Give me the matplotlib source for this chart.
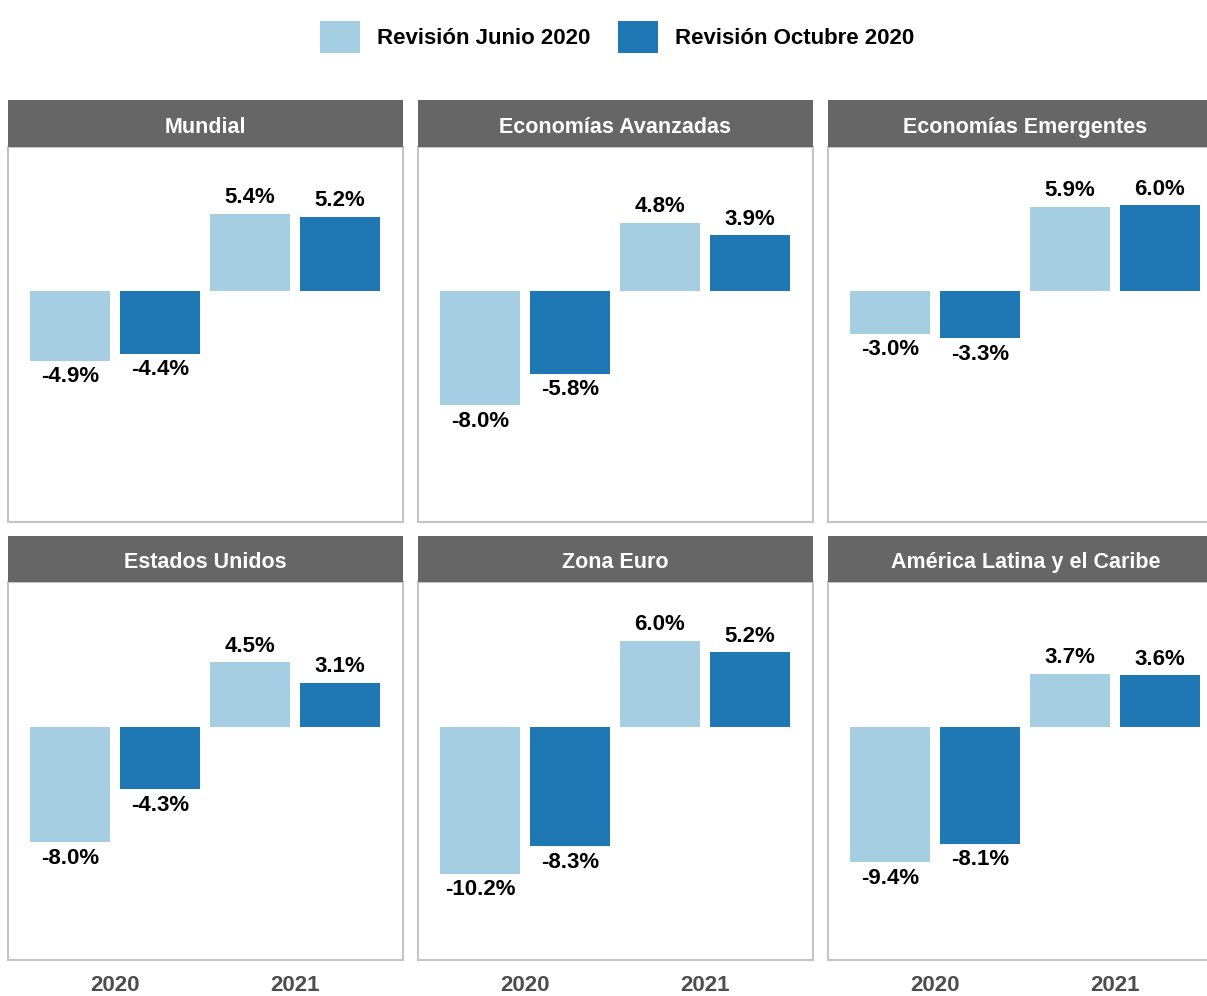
"""
Revisiones de crecimiento (Junio vs Octubre 2020), 2x3 paneles por región.
Writes out.png (1207x996).
"""

import numpy as np
import matplotlib
matplotlib.use("Agg")
import matplotlib.pyplot as plt

plt.rcParams["font.family"] = ["Liberation Sans", "DejaVu Sans"]

# --- data -------------------------------------------------------------------
regions = ["Mundial", "Economías Avanzadas", "Economías Emergentes",
           "Estados Unidos", "Zona Euro", "América Latina y el Caribe"]
years = ["2020", "2021"]
series = ["Revisión Junio 2020", "Revisión Octubre 2020"]

# values per region: [2020, 2021]
junio = [[-4.9, 5.4], [-8.0, 4.8], [-3.0, 5.9],
         [-8.0, 4.5], [-10.2, 6.0], [-9.4, 3.7]]
octubre = [[-4.4, 5.2], [-5.8, 3.9], [-3.3, 6.0],
           [-4.3, 3.1], [-8.3, 5.2], [-8.1, 3.6]]

colors = ["#a6cee3", "#1f78b4"]

# --- layout (pixel coords) ---------------------------------------------------
W, H = 1207, 996
fig = plt.figure(figsize=(W / 100, H / 100), dpi=100)

col_x = [8, 418, 828]
panel_w = 395
rows = [(100, 147, 522), (536, 582, 960)]  # strip top, panel top, panel bottom


def px_axes(x0, y0, x1, y1):
    return fig.add_axes([x0 / W, 1 - y1 / H, (x1 - x0) / W, (y1 - y0) / H])


x = np.arange(len(years))
handles = None
for i, region in enumerate(regions):
    r, c = divmod(i, 3)
    strip_top, top, bottom = rows[r]
    x0 = col_x[c]

    ax = px_axes(x0, top, x0 + panel_w, bottom)
    bars = []
    for k, vals in enumerate([junio[i], octubre[i]]):
        b = ax.bar(x + (k - 0.5) * 0.5, vals, width=0.445, color=colors[k],
                   label=series[k])
        bars.append(b)
        for xi, v in zip(x + (k - 0.5) * 0.5, vals):
            ax.annotate(f"{v:.1f}%", (xi, v),
                        xytext=(0, 4 if v > 0 else -4), textcoords="offset points",
                        ha="center", va="bottom" if v > 0 else "top",
                        fontsize=16, fontweight="bold", color="black")
    handles = bars
    ax.set_xlim(-0.594, 1.6)
    ax.set_ylim(-16.2, 10.1)
    ax.set_yticks([])
    ax.set_xticks(x)
    if r == 1:
        ax.set_xticklabels(years, fontsize=16, fontweight="bold", color="#4d4d4d")
    else:
        ax.set_xticklabels([])
    ax.tick_params(axis="x", length=0, pad=11)
    for s in ax.spines.values():
        s.set_color("#c4c4c4")
        s.set_linewidth(1.5)

    # facet strip
    sax = px_axes(x0, strip_top, x0 + panel_w, top)
    sax.set_facecolor("#666666")
    sax.set_xticks([])
    sax.set_yticks([])
    for s in sax.spines.values():
        s.set_visible(False)
    sax.text(0.5, 0.42, region, transform=sax.transAxes, ha="center", va="center",
             color="white", fontsize=15.5, fontweight="bold")

fig.legend(handles, series, loc="center", bbox_to_anchor=(617 / W, 1 - 37 / H),
           ncol=2, frameon=False, prop={"weight": "bold", "size": 16},
           handlelength=1.8, handleheight=1.8, handletextpad=0.75,
           columnspacing=1.25)

fig.savefig("out.png", dpi=100)
